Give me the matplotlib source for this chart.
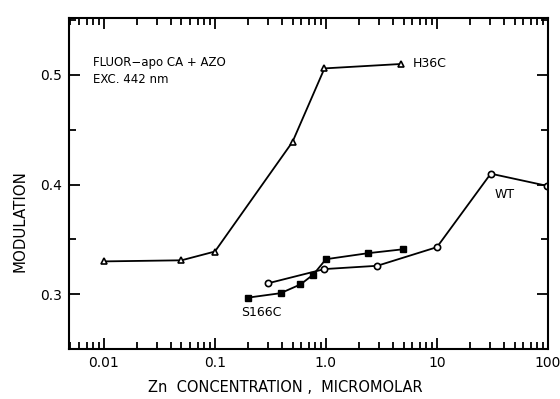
import numpy as np
import matplotlib.pyplot as plt
from matplotlib.ticker import LogLocator, NullFormatter, FixedLocator, MultipleLocator

# H36C (open triangles)
h36c_x = [0.01, 0.05, 0.1, 0.5, 0.97, 4.7]
h36c_y = [0.330, 0.331, 0.339, 0.439, 0.506, 0.510]

# WT (open circles)
wt_x = [0.3, 0.97, 2.9, 10, 30.5, 97]
wt_y = [0.310, 0.323, 0.326, 0.343, 0.410, 0.399]

# S166C (filled squares)
s166c_x = [0.2, 0.39, 0.59, 0.77, 1.0, 2.4, 4.9]
s166c_y = [0.297, 0.301, 0.309, 0.318, 0.332, 0.3375, 0.341]

xtick_vals = [0.01, 0.1, 1.0, 10, 100]
xtick_labels = ["0.01", "0.1", "1.0", "10", "100"]
ytick_vals = [0.3, 0.4, 0.5]

plt.rcParams['font.family'] = ['DejaVu Sans']
fig = plt.figure(figsize=(5.6, 3.99), dpi=100)
ax = fig.add_axes([0.123, 0.125, 0.856, 0.830])

ax.plot(h36c_x, h36c_y, color='black', lw=1.3, marker='^', ms=4.5,
        mfc='white', mec='black', mew=1.2)
ax.plot(wt_x, wt_y, color='black', lw=1.3, marker='o', ms=4.5,
        mfc='white', mec='black', mew=1.2)
ax.plot(s166c_x, s166c_y, color='black', lw=1.3, marker='s', ms=5,
        mfc='black', mec='black')

ax.set_xscale('log')
ax.set_xlim(0.00484, 100.5)
ax.set_ylim(0.25, 0.552)

ax.xaxis.set_major_locator(FixedLocator(xtick_vals))
ax.set_xticks(xtick_vals)
ax.set_xticklabels(xtick_labels)
ax.xaxis.set_minor_locator(LogLocator(base=10, subs=np.arange(2, 10), numticks=20))
ax.xaxis.set_minor_formatter(NullFormatter())
ax.set_yticks(ytick_vals)
ax.set_yticklabels(["0.3", "0.4", "0.5"])
ax.yaxis.set_minor_locator(MultipleLocator(0.05))

ax.tick_params(which='both', direction='in', top=True, right=True,
               width=1.3, labelsize=10, pad=5)
ax.tick_params(which='major', length=8)
ax.tick_params(which='minor', length=5)
for s in ax.spines.values():
    s.set_linewidth(1.5)

ax.text(0.0079, 0.5115, "FLUOR\u2212apo CA + AZO", fontsize=8.5, va='center')
ax.text(0.0079, 0.4955, "EXC. 442 nm", fontsize=8.5, va='center')
ax.text(6.0, 0.5105, "H36C", fontsize=9, va='center')
ax.text(33, 0.391, "WT", fontsize=9, va='center')
ax.text(0.173, 0.283, "S166C", fontsize=9, va='center')

fig.text(285 / 560, 1 - 388 / 399, "Zn  CONCENTRATION ,  MICROMOLAR",
         fontsize=10.5, ha='center', va='center')
fig.text(20 / 560, 1 - 221 / 399, "MODULATION", fontsize=10.8,
         rotation=90, ha='center', va='center')

fig.savefig("out.png", dpi=100)
